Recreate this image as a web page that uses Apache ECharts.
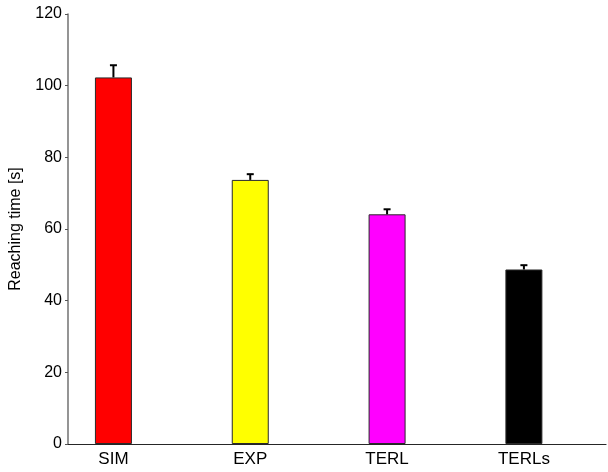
<!DOCTYPE html>
<html>
<head>
<meta charset="utf-8">
<script src="https://cdn.jsdelivr.net/npm/echarts@6/dist/echarts.min.js"></script>
<style>
  html, body { margin: 0; padding: 0; background: #fff; }
  #chart { width: 608px; height: 472px; }
</style>
</head>
<body>
<div id="chart"></div>
<script>
// Mean reaching time per method, with the upper standard error
const categories = ['SIM', 'EXP', 'TERL', 'TERLs'];
const meanTime = [102.3, 73.7, 64.1, 48.7];
const errorUp = [3.4, 1.6, 1.4, 1.2];
const barColors = ['#ff0000', '#ffff00', '#ff00ff', '#000000'];
const yTicks = [0, 20, 40, 60, 80, 100, 120];

const positions = categories.map((_, i) => i + 1);
const barData = meanTime.map((v, i) => ({
  value: [positions[i], v],
  itemStyle: { color: barColors[i] }
}));
const errData = meanTime.map((v, i) => [positions[i], v, v + errorUp[i]]);

const font = '"Liberation Sans", Arial, Helvetica, sans-serif';
const chart = echarts.init(document.getElementById('chart'), null, { renderer: 'canvas' });

chart.setOption({
  animation: false,
  backgroundColor: '#ffffff',
  grid: { left: 68, right: 2, top: 14, bottom: 28, containLabel: false },
  xAxis: {
    type: 'value',
    min: 0.668,
    max: 4.6,
    splitLine: { show: false },
    axisLine: { show: true, onZero: false, lineStyle: { color: '#262626', width: 1.2 } },
    axisTick: { show: false },
    axisLabel: {
      customValues: positions,
      formatter: v => categories[Math.round(v) - 1] || '',
      color: '#000',
      fontFamily: font,
      fontSize: 17,
      margin: 7
    }
  },
  yAxis: {
    type: 'value',
    min: 0,
    max: 120,
    interval: 20,
    name: 'Reaching time [s]',
    nameLocation: 'middle',
    nameGap: 44,
    nameTextStyle: { color: '#000', fontFamily: font, fontSize: 16 },
    splitLine: { show: false },
    axisLine: { show: true, lineStyle: { color: '#7a7a7a', width: 1.6 } },
    axisTick: { show: true, inside: false, length: 3, lineStyle: { color: '#555', width: 1 } },
    axisLabel: {
      customValues: yTicks,
      color: '#000',
      fontFamily: font,
      fontSize: 16,
      margin: 6
    }
  },
  series: [
    {
      type: 'bar',
      data: barData,
      barWidth: 37,
      itemStyle: { borderColor: '#2a2a2a', borderWidth: 1 },
      z: 2
    },
    {
      type: 'custom',
      data: errData,
      z: 3,
      renderItem: function (params, api) {
        const x = api.value(0);
        const base = api.coord([x, api.value(1)]);
        const top = api.coord([x, api.value(2)]);
        const half = 3.5;
        return {
          type: 'group',
          children: [
            {
              type: 'line',
              shape: { x1: base[0], y1: base[1], x2: top[0], y2: top[1] },
              style: { stroke: '#000', lineWidth: 2 }
            },
            {
              type: 'line',
              shape: { x1: top[0] - half, y1: top[1], x2: top[0] + half, y2: top[1] },
              style: { stroke: '#000', lineWidth: 2 }
            }
          ]
        };
      }
    }
  ]
});
</script>
</body>
</html>
